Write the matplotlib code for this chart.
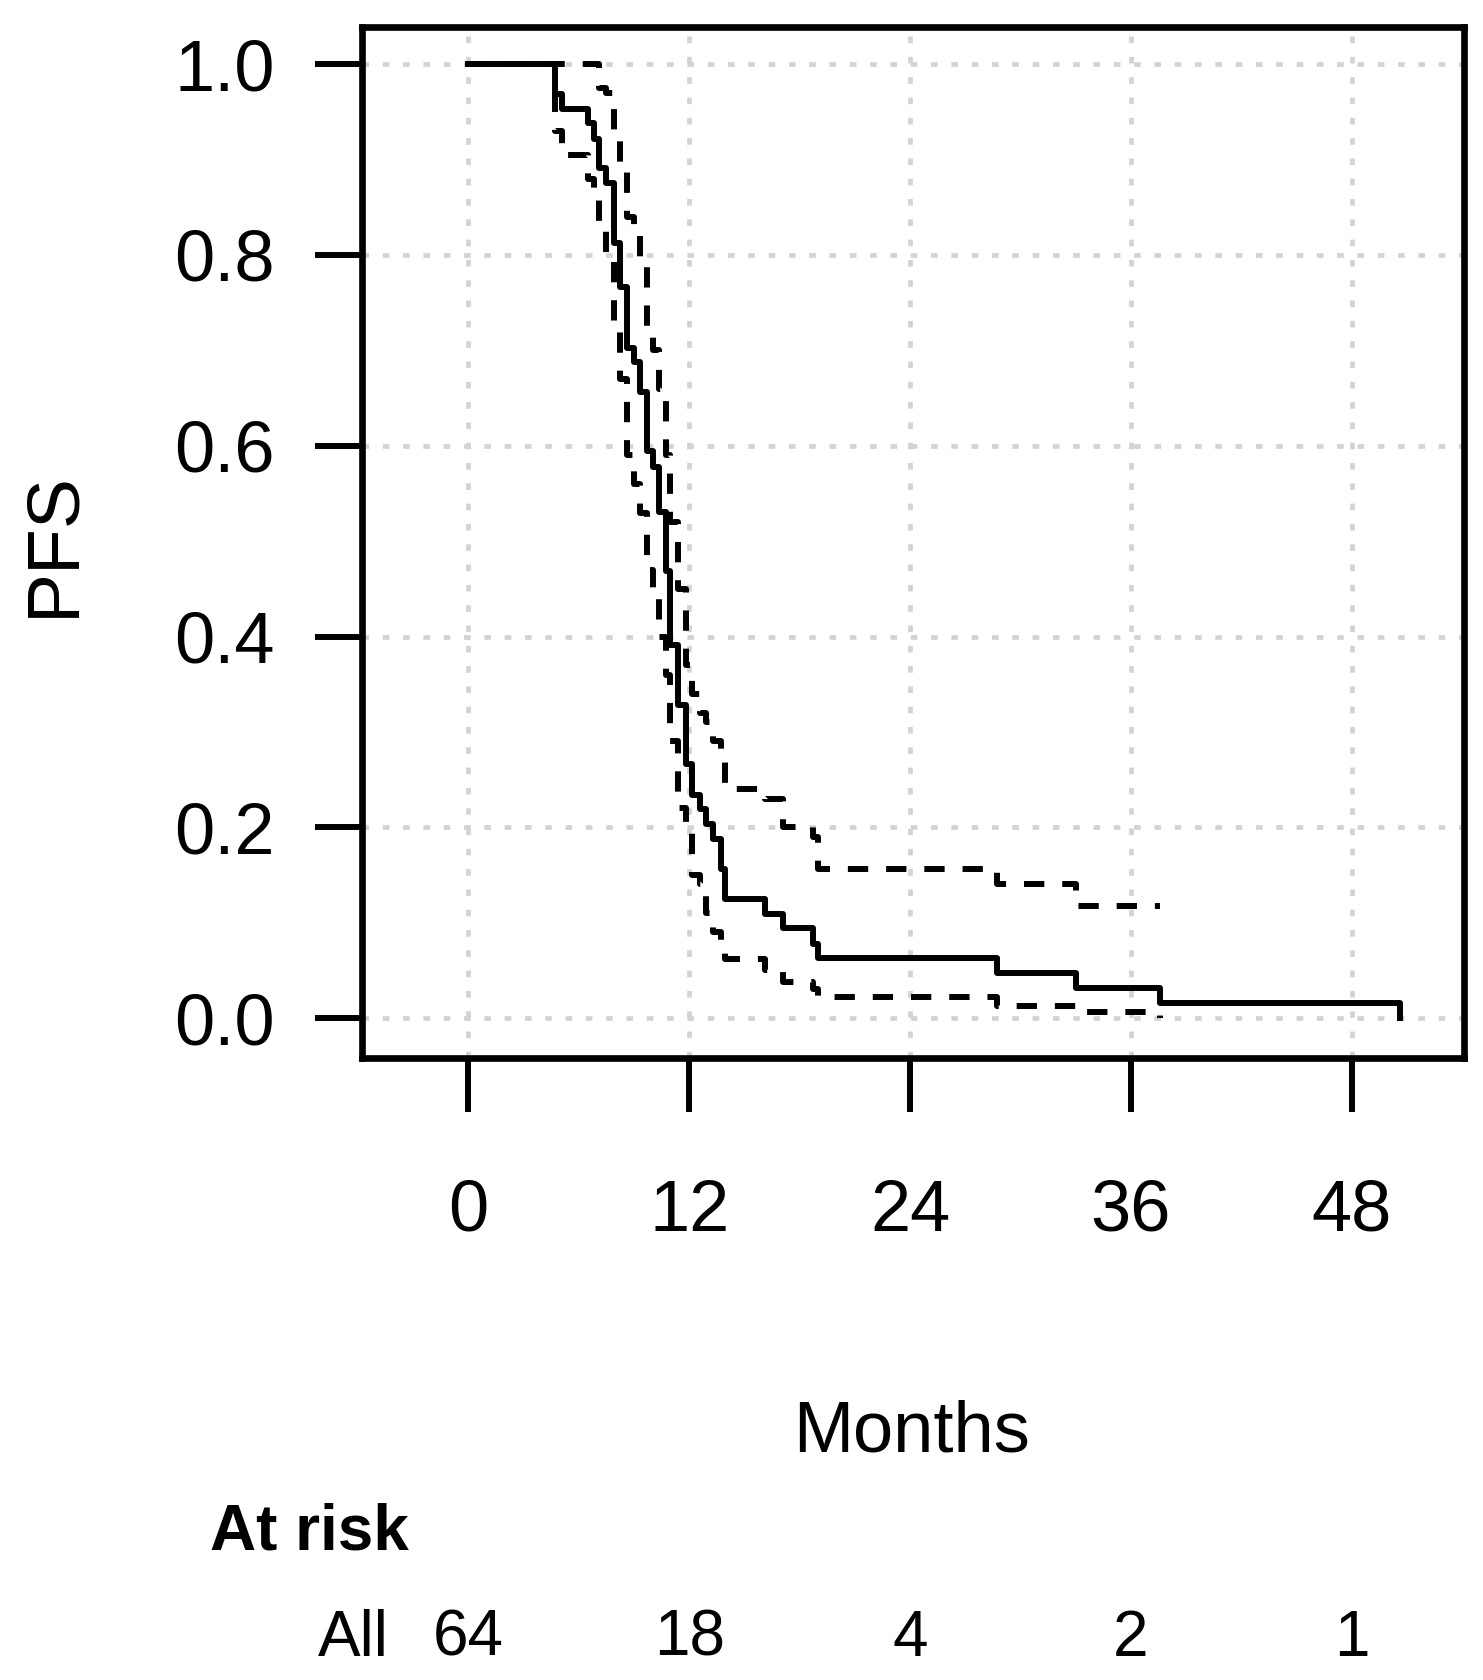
import numpy as np
import matplotlib
matplotlib.use("Agg")
import matplotlib.pyplot as plt

plt.rcParams['font.family'] = ['Liberation Sans', 'DejaVu Sans']

# Kaplan-Meier estimate (months, survival)
times = [0, 4.7, 5.1, 6.5, 6.8, 7.1, 7.5, 7.9, 8.25, 8.6, 9.0, 9.3, 9.7, 10.05, 10.35,
         10.75, 10.95, 11.4, 11.8, 12.15, 12.6, 12.9, 13.3, 13.7, 13.95, 16.1, 17.1,
         18.7, 19.0, 28.7, 33.0, 37.6, 50.6]
surv = [1.0, 0.969, 0.953, 0.938, 0.922, 0.891, 0.875, 0.813, 0.766, 0.703, 0.688,
        0.656, 0.594, 0.578, 0.531, 0.469, 0.391, 0.328, 0.266, 0.234, 0.219, 0.203,
        0.188, 0.156, 0.125, 0.109, 0.094, 0.078, 0.0625, 0.047, 0.031, 0.016, 0.0]
# confidence band, same time points up to 37.6
upper = [1.0, 1.0, 1.0, 1.0, 1.0, 0.975, 0.97, 0.93, 0.89, 0.84, 0.82, 0.79, 0.72,
         0.70, 0.66, 0.59, 0.52, 0.45, 0.37, 0.34, 0.32, 0.31, 0.29, 0.27, 0.24, 0.23,
         0.20, 0.19, 0.156, 0.14, 0.117, 0.117]
lower = [1.0, 0.93, 0.905, 0.88, 0.86, 0.83, 0.80, 0.72, 0.67, 0.59, 0.56, 0.53, 0.47,
         0.45, 0.40, 0.36, 0.29, 0.22, 0.20, 0.15, 0.14, 0.11, 0.09, 0.08, 0.062, 0.05,
         0.038, 0.03, 0.022, 0.013, 0.006, 0.0]

xticks = [0, 12, 24, 36, 48]
yticks = [0.0, 0.2, 0.4, 0.6, 0.8, 1.0]
at_risk = [64, 18, 4, 2, 1]

fig = plt.figure(figsize=(14.83, 16.8), dpi=100)
ax = fig.add_axes([0.2441, 0.3702, 0.7431, 0.6137])

tci = times[:len(upper)]
ax.plot(times, surv, drawstyle='steps-post', color='black', lw=4.3, zorder=3)
ax.plot(tci, upper, drawstyle='steps-post', color='black', lw=4.3,
        linestyle=(0, (3.4, 3.0)), zorder=3)
ax.plot(tci, lower, drawstyle='steps-post', color='black', lw=4.3,
        linestyle=(0, (3.4, 3.0)), zorder=3)

ax.set_xlim(-5.78, 54.1)
ax.set_ylim(-0.042, 1.039)
ax.set_xticks(xticks)
ax.set_yticks(yticks)
ax.set_yticklabels(['%.1f' % v for v in yticks])
ax.grid(True, color='lightgray', lw=3.4, linestyle=(0, (1.4, 2.9)), zorder=1)

for s in ax.spines.values():
    s.set_linewidth(4.8)
ax.tick_params(axis='y', length=34, width=4.3, labelsize=52, pad=29)
ax.tick_params(axis='x', length=39, width=4.3, labelsize=52, pad=48)

fig.text(54 / 1483, 1 - 544 / 1680, 'PFS', rotation=90, ha='center', va='center',
         fontsize=54)
fig.text(912 / 1483, 1 - 1452 / 1680, 'Months', ha='center', va='baseline',
         fontsize=52)
fig.text(210 / 1483, 1 - 1550 / 1680, 'At risk', ha='left', va='baseline',
         fontsize=46, fontweight='bold')
fig.text(318 / 1483, 1 - 1656 / 1680, 'All', ha='left', va='baseline', fontsize=46)
for t, n in zip(xticks, at_risk):
    x_fig = fig.transFigure.inverted().transform(ax.transData.transform((t, 0)))[0]
    fig.text(x_fig, 1 - 1656 / 1680, str(n), ha='center', va='baseline', fontsize=46)

fig.savefig('out.png', dpi=100)
